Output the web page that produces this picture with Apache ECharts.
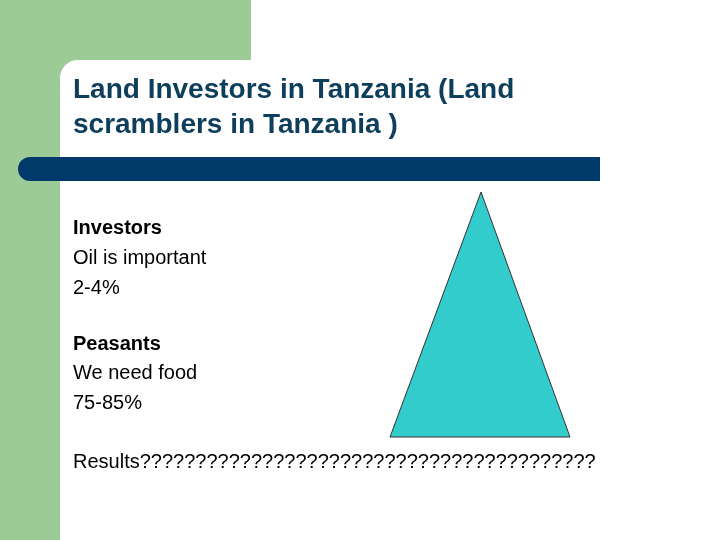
<!DOCTYPE html>
<html><head><meta charset="utf-8">
<script src="https://cdn.jsdelivr.net/npm/echarts@6/dist/echarts.min.js"></script>
<style>html,body{margin:0;padding:0;background:#fff}#c{width:720px;height:540px}</style>
</head><body><div id="c"></div>
<script>
const titleLines = ["Land Investors in Tanzania (Land", "scramblers in Tanzania )"];
const bodyLines = [
  {t:"Investors", b:true, y:228},
  {t:"Oil is important", b:false, y:258},
  {t:"2-4%", b:false, y:288},
  {t:"Peasants", b:true, y:344},
  {t:"We need food", b:false, y:373},
  {t:"75-85%", b:false, y:403},
  {t:"Results" + "?".repeat(41), b:false, y:462}
];
const triangle = [[481,192],[390,437],[570,437]];
const chart = echarts.init(document.getElementById('c'));
const g = [
  {type:'rect', shape:{x:0,y:0,width:60,height:540}, style:{fill:'#9ccb98'}},
  {type:'rect', shape:{x:0,y:0,width:251,height:80}, style:{fill:'#9ccb98'}},
  {type:'rect', shape:{x:60,y:60,width:660,height:480,r:[18,0,0,0]}, style:{fill:'#fff'}},
  {type:'rect', shape:{x:18,y:157,width:582,height:24,r:[12,0,0,12]}, style:{fill:'#003a6a'}},
  {type:'polygon', shape:{points:triangle}, style:{fill:'#33cccc', stroke:'#333', lineWidth:1}}
];
titleLines.forEach((t,i)=>g.push({type:'text', x:73, y:90+i*35, style:{text:t, font:'bold 28px "Liberation Sans", Arial', fill:'#0d3e5c', verticalAlign:'middle'}}));
bodyLines.forEach(l=>g.push({type:'text', x:73, y:l.y, style:{text:l.t, font:(l.b?'bold ':'')+'20px "Liberation Sans", Arial', fill:'#000', verticalAlign:'middle'}}));
chart.setOption({graphic:g});
</script></body></html>
